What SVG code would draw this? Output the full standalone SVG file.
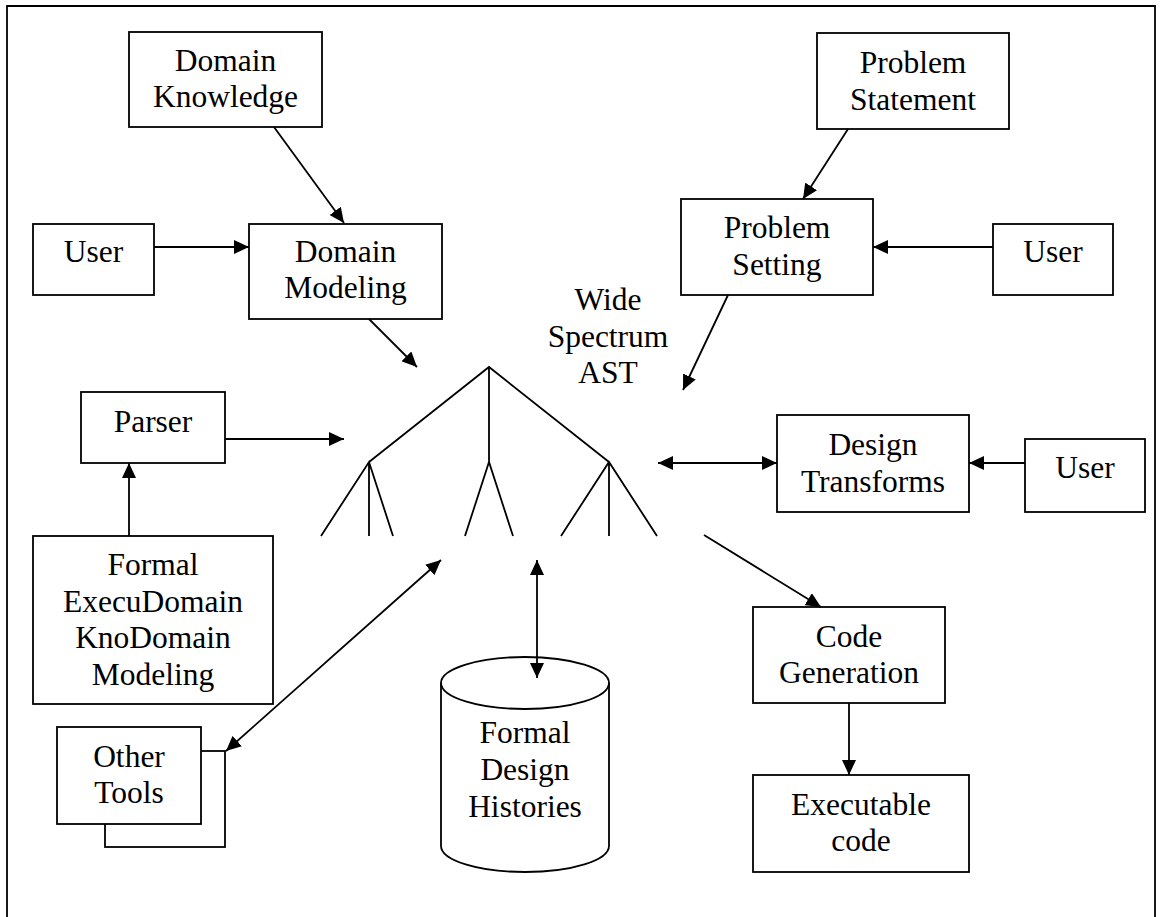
<svg xmlns="http://www.w3.org/2000/svg" width="1162" height="917" viewBox="0 0 1162 917">
<style>
.box{fill:#fff;stroke:#000;stroke-width:1.8}
.ln{fill:none;stroke:#000;stroke-width:1.8}
.t{font-family:'Liberation Serif','Times New Roman',serif;font-size:31.5px;fill:#000;text-anchor:middle}
</style>
<defs>
<marker id="ah" viewBox="0 0 15 14" markerWidth="15" markerHeight="14" refX="15" refY="7" orient="auto-start-reverse" markerUnits="userSpaceOnUse">
<path d="M0,0 L15,7 L0,14 z" fill="#000"/>
</marker>
</defs>
<rect x="0" y="0" width="1162" height="917" fill="#fff"/>
<path class="ln" d="M7,917 V6 H1155 V917"/>
<g id="ast">
<path class="ln" d="M369,462 L489,367 L609,462 M489,367 V462 M321,536 L369,462 L393,536 M369,462 V536 M465,536 L489,462 L513,536 M561,536 L609,462 L657,536 M609,462 V536"/>
<text class="t" x="608" y="310">Wide</text>
<text class="t" x="608" y="347">Spectrum</text>
<text class="t" x="608" y="383">AST</text>
</g>
<g id="domain-knowledge">
<rect class="box" x="129" y="32" width="193" height="95"/>
<text class="t" x="225.5" y="71">Domain</text>
<text class="t" x="225.5" y="107">Knowledge</text>
</g>
<g id="user-left">
<rect class="box" x="33" y="224" width="121" height="71"/>
<text class="t" x="93.5" y="262">User</text>
</g>
<g id="domain-modeling">
<rect class="box" x="249" y="224" width="193" height="95"/>
<text class="t" x="345.5" y="262">Domain</text>
<text class="t" x="345.5" y="298">Modeling</text>
</g>
<g id="problem-statement">
<rect class="box" x="817" y="33" width="192" height="96"/>
<text class="t" x="913" y="73">Problem</text>
<text class="t" x="913" y="110">Statement</text>
</g>
<g id="problem-setting">
<rect class="box" x="681" y="199" width="192" height="96"/>
<text class="t" x="777" y="238">Problem</text>
<text class="t" x="777" y="275">Setting</text>
</g>
<g id="user-right">
<rect class="box" x="993" y="224" width="120" height="71"/>
<text class="t" x="1053" y="262">User</text>
</g>
<g id="parser">
<rect class="box" x="81" y="392" width="144" height="71"/>
<text class="t" x="153" y="432">Parser</text>
</g>
<g id="formal-domain">
<rect class="box" x="33" y="536" width="240" height="168"/>
<text class="t" x="153" y="575">Formal</text>
<text class="t" x="153" y="612">ExecuDomain</text>
<text class="t" x="153" y="648">KnoDomain</text>
<text class="t" x="153" y="685">Modeling</text>
</g>
<g id="other-tools">
<rect class="box" x="105" y="751" width="120" height="96"/>
<rect class="box" x="57" y="727" width="144" height="97"/>
<text class="t" x="129" y="767">Other</text>
<text class="t" x="129" y="803">Tools</text>
</g>
<g id="design-histories">
<path class="box" d="M441,683 V846 A84,26 0 0 0 609,846 V683 A84,26 0 0 0 441,683 z"/>
<path class="ln" d="M441,683 A84,26 0 0 0 609,683"/>
<text class="t" x="525" y="743">Formal</text>
<text class="t" x="525" y="780">Design</text>
<text class="t" x="525" y="817">Histories</text>
</g>
<g id="design-transforms">
<rect class="box" x="777" y="415" width="192" height="97"/>
<text class="t" x="873" y="455">Design</text>
<text class="t" x="873" y="492">Transforms</text>
</g>
<g id="user-design">
<rect class="box" x="1025" y="439" width="120" height="73"/>
<text class="t" x="1085" y="478">User</text>
</g>
<g id="code-generation">
<rect class="box" x="753" y="607" width="192" height="96"/>
<text class="t" x="849" y="647">Code</text>
<text class="t" x="849" y="683">Generation</text>
</g>
<g id="executable-code">
<rect class="box" x="753" y="775" width="216" height="97"/>
<text class="t" x="861" y="815">Executable</text>
<text class="t" x="861" y="851">code</text>
</g>
<g id="connectors">
<line class="ln" x1="274" y1="127" x2="344" y2="223" marker-end="url(#ah)"/>
<line class="ln" x1="154" y1="247" x2="249" y2="247" marker-end="url(#ah)"/>
<line class="ln" x1="369" y1="319" x2="417" y2="367" marker-end="url(#ah)"/>
<line class="ln" x1="848" y1="129" x2="803" y2="199" marker-end="url(#ah)"/>
<line class="ln" x1="993" y1="247" x2="873" y2="247" marker-end="url(#ah)"/>
<line class="ln" x1="728" y1="295" x2="683" y2="390" marker-end="url(#ah)"/>
<line class="ln" x1="225" y1="439" x2="344" y2="439" marker-end="url(#ah)"/>
<line class="ln" x1="129" y1="536" x2="129" y2="463" marker-end="url(#ah)"/>
<line class="ln" x1="226" y1="751" x2="441" y2="560" marker-start="url(#ah)" marker-end="url(#ah)"/>
<line class="ln" x1="537" y1="560" x2="537" y2="678" marker-start="url(#ah)" marker-end="url(#ah)"/>
<line class="ln" x1="658" y1="463" x2="777" y2="463" marker-start="url(#ah)" marker-end="url(#ah)"/>
<line class="ln" x1="1025" y1="463" x2="969" y2="463" marker-end="url(#ah)"/>
<line class="ln" x1="704" y1="535" x2="821" y2="607" marker-end="url(#ah)"/>
<line class="ln" x1="849" y1="703" x2="849" y2="775" marker-end="url(#ah)"/>
</g>
</svg>
